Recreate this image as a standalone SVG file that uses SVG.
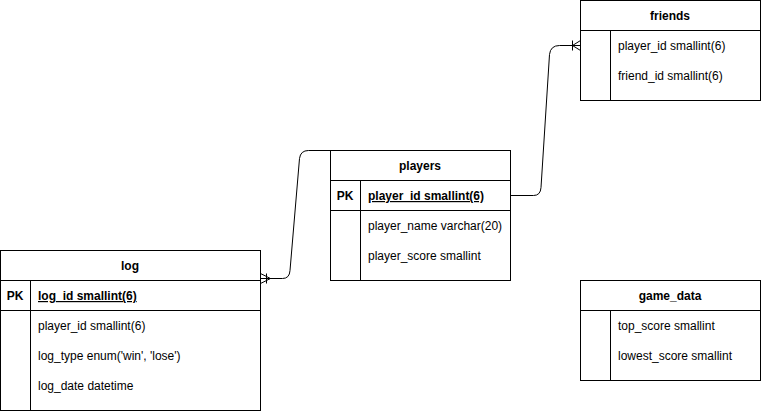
<svg xmlns="http://www.w3.org/2000/svg" width="761" height="411" viewBox="0 0 761 411">
<style>
.box{fill:#fff;stroke:#000;stroke-width:1}
.ln{stroke:#000;stroke-width:1;fill:none}
text{font-family:"Liberation Sans",Arial,sans-serif;font-size:12px;fill:#000}
.t{font-weight:bold;text-anchor:middle}
.pk{font-weight:bold;text-anchor:middle}
.key{font-weight:bold;text-decoration:underline}
</style>
<rect width="761" height="411" fill="#fff"/>
<g id="connectors">
<path class="ln" d="M260.5 278.5 L282.5 278.5 Q289.5 278.5 290 270.5 L299.5 158.5 Q300.5 150.5 308.5 150.5 L330.5 150.5"/>
<path class="ln" d="M266.5 273.5 L266.5 283.5 M260.5 273.5 L270.5 278.5 L260.5 283.5"/>
<path class="ln" d="M510.5 195.5 L533.5 195.5 Q540.5 195.5 541 187.5 L549.5 54.5 Q550.5 45.5 559.5 45.5 L580.5 45.5"/>
<path class="ln" d="M572.5 40.5 L572.5 50.5 M580.5 40.5 L572.5 45.5 L580.5 50.5"/>
</g>
<g id="log">
<rect class="box" x="0.5" y="250.5" width="260" height="160"/>
<path class="ln" d="M0.5 280.5 H260.5 M0.5 310.5 H260.5 M30.5 280.5 V410.5"/>
<text class="t" x="130" y="270">log</text>
<text class="pk" x="15" y="300">PK</text>
<text class="key" x="38" y="300">log_id smallint(6)</text>
<text x="38" y="330">player_id smallint(6)</text>
<text x="38" y="360">log_type enum('win', 'lose')</text>
<text x="38" y="390">log_date datetime</text>
</g>
<g id="players">
<rect class="box" x="330.5" y="150.5" width="180" height="130"/>
<path class="ln" d="M330.5 180.5 H510.5 M330.5 210.5 H510.5 M360.5 180.5 V280.5"/>
<text class="t" x="420" y="170">players</text>
<text class="pk" x="345" y="200">PK</text>
<text class="key" x="368" y="200">player_id smallint(6)</text>
<text x="368" y="230">player_name varchar(20)</text>
<text x="368" y="260">player_score smallint</text>
</g>
<g id="friends">
<rect class="box" x="580.5" y="0.5" width="180" height="100"/>
<path class="ln" d="M580.5 30.5 H760.5 M610.5 30.5 V100.5"/>
<text class="t" x="670" y="20">friends</text>
<text x="618" y="50">player_id smallint(6)</text>
<text x="618" y="80">friend_id smallint(6)</text>
</g>
<g id="game_data">
<rect class="box" x="580.5" y="280.5" width="180" height="100"/>
<path class="ln" d="M580.5 310.5 H760.5 M610.5 310.5 V380.5"/>
<text class="t" x="670" y="300">game_data</text>
<text x="618" y="330">top_score smallint</text>
<text x="618" y="360">lowest_score smallint</text>
</g>
</svg>
